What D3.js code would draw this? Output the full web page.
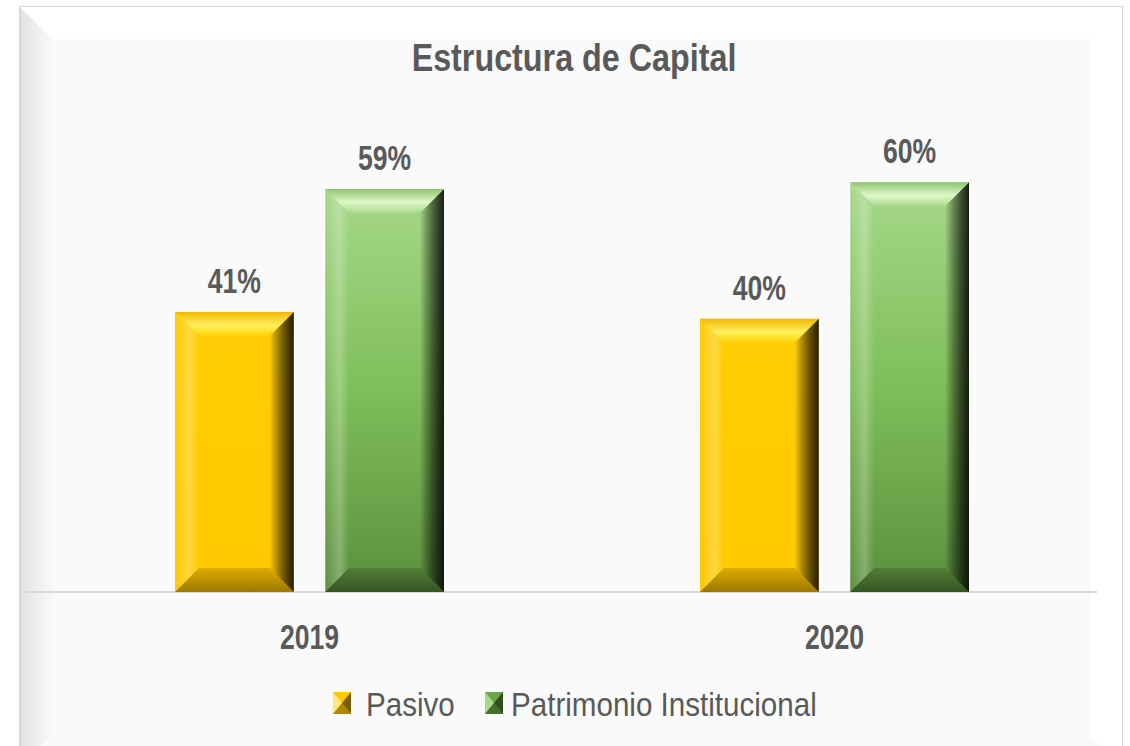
<!DOCTYPE html>
<html>
<head>
<meta charset="utf-8">
<script src="https://cdn.jsdelivr.net/npm/d3@7"></script>
<style>
  body { margin: 0; background: #ffffff; }
  svg { display: block; }
  text { font-family: "Liberation Sans", Arial, sans-serif; fill: #595959; }
</style>
</head>
<body>
<svg id="chart" width="1130" height="746"></svg>
<script>
// chart data
const years = ["2019", "2020"];
const seriesNames = ["Pasivo", "Patrimonio Institucional"];
const pasivo = [0.41, 0.40];
const patrimonio = [0.59, 0.60];

const BASE_Y = 592;
const NARROW = 0.76; // squeeze to imitate a narrow font

const svg = d3.select("#chart");
const defs = svg.append("defs");

// gradients
function linGrad(id, x2, y2, stops) {
  const g = defs.append("linearGradient").attr("id", id)
    .attr("x1", 0).attr("y1", 0).attr("x2", x2).attr("y2", y2);
  stops.forEach(s => g.append("stop").attr("offset", s[0]).attr("stop-color", s[1]).attr("stop-opacity", s[2] == null ? 1 : s[2]));
}
linGrad("yellowBody", 0, 1, [[0, "#ffcd05"], [1, "#ffc800"]]);
linGrad("greenBody", 0, 1, [[0, "#a6d889"], [0.5, "#7fbe5a"], [1, "#5b8f3d"]]);
linGrad("yellowTop", 0, 1, [[0, "#f2b800"], [0.55, "#fff060"], [1, "#ffd200"]]);
linGrad("greenTop", 0, 1, [[0, "#8fc470"], [0.55, "#def8c8"], [1, "#a9d98d"]]);
linGrad("yellowBottom", 0, 1, [[0, "#d8a800"], [1, "#8a6a00"]]);
linGrad("greenBottom", 0, 1, [[0, "#4f7a34"], [1, "#2e4a1c"]]);
linGrad("bgLeft", 1, 0, [[0, "#d8d8d8"], [1, "#f8f8f8"]]);
linGrad("rightShade", 1, 0, [[0, "#000", 0.0], [1, "#000", 0.75]]);
linGrad("leftLight", 1, 0, [[0, "#fff", 0.0], [0.6, "#fff", 0.25], [1, "#fff", 0.0]]);

// background frame with bevel
const fx = 20, fy = 7, fw = 1102, fh = 760, fb = 32;
svg.append("rect").attr("x", fx).attr("y", fy).attr("width", fw).attr("height", fh)
  .attr("fill", "#fafafa").attr("stroke", "#d6d6d6").attr("stroke-width", 2);
svg.append("polygon")
  .attr("points", [[fx, fy], [fx + fw, fy], [fx + fw - fb, fy + fb], [fx + fb, fy + fb]].join(" "))
  .attr("fill", "#ffffff");
svg.append("polygon")
  .attr("points", [[fx, fy], [fx + fb, fy + fb], [fx + fb, fy + fh - fb], [fx, fy + fh]].join(" "))
  .attr("fill", "url(#bgLeft)").attr("opacity", 0.7);
svg.append("polygon")
  .attr("points", [[fx + fw, fy], [fx + fw, fy + fh], [fx + fw - fb, fy + fh - fb], [fx + fw - fb, fy + fb]].join(" "))
  .attr("fill", "#ffffff");

// scales
const x0 = d3.scaleBand().domain(years).range([47, 1097]).paddingInner(0).paddingOuter(0);
const x1 = d3.scaleBand().domain(seriesNames).range([128, 397]).paddingInner(0.21).paddingOuter(0);
const y = d3.scaleLinear().domain([0, 0.7]).range([BASE_Y, BASE_Y - 478]);

function narrowText(parent, x, yy, size, weight, str, anchor, sx) {
  return parent.append("text")
    .attr("transform", `translate(${x},${yy}) scale(${sx || NARROW},1)`)
    .attr("text-anchor", anchor || "middle")
    .style("font-size", size + "px").style("font-weight", weight).text(str);
}

// title
narrowText(svg, 574, 71, 38, "bold", "Estructura de Capital", "middle", 0.85);

// axis line
svg.append("line").attr("x1", 20).attr("x2", 1097).attr("y1", BASE_Y).attr("y2", BASE_Y)
  .attr("stroke", "#d9d9d9").attr("stroke-width", 2);

const rows = [];
years.forEach((yr, i) => {
  rows.push({ year: yr, series: seriesNames[0], value: pasivo[i] });
  rows.push({ year: yr, series: seriesNames[1], value: patrimonio[i] });
});

const style = {
  "Pasivo": { body: "url(#yellowBody)", top: "url(#yellowTop)", bottom: "url(#yellowBottom)", right: "#6b5200", flat: "#ffc800", light: "#ffe680", dark: "#7a5d00" },
  "Patrimonio Institucional": { body: "url(#greenBody)", top: "url(#greenTop)", bottom: "url(#greenBottom)", right: "#263f16", flat: "#6aa548", light: "#a8d98b", dark: "#2f4d1d" }
};

function bevelBar(g, bx, by, bw, bh, st) {
  const b = Math.min(24, bh / 2);
  g.append("rect").attr("x", bx).attr("y", by).attr("width", bw).attr("height", bh).attr("fill", st.body);
  // left light band
  g.append("polygon").attr("points", [[bx, by], [bx + b, by + b], [bx + b, by + bh - b], [bx, by + bh]].join(" "))
    .attr("fill", "url(#leftLight)");
  // right dark band
  g.append("polygon").attr("points", [[bx + bw, by], [bx + bw, by + bh], [bx + bw - b, by + bh - b], [bx + bw - b, by + b]].join(" "))
    .attr("fill", "url(#rightShade)");
  // top bevel
  g.append("polygon").attr("points", [[bx, by], [bx + bw, by], [bx + bw - b, by + b], [bx + b, by + b]].join(" "))
    .attr("fill", st.top);
  // bottom bevel
  g.append("polygon").attr("points", [[bx, by + bh], [bx + b, by + bh - b], [bx + bw - b, by + bh - b], [bx + bw, by + bh]].join(" "))
    .attr("fill", st.bottom).attr("opacity", 0.85);
  // darken right corners of top/bottom bevel
  g.append("polygon").attr("points", [[bx + bw, by], [bx + bw, by + bh], [bx + bw - b, by + bh - b], [bx + bw - b, by + b]].join(" "))
    .attr("fill", "url(#rightShade)").attr("opacity", 0.5);
}

const bars = svg.append("g");
const labels = svg.append("g");
rows.forEach(d => {
  const bx = x0(d.year) + x1(d.series);
  const by = y(d.value);
  const g = bars.append("g");
  bevelBar(g, bx, by, x1.bandwidth(), BASE_Y - by, style[d.series]);
  narrowText(labels, bx + x1.bandwidth() / 2, by - 19, 35, "bold", d3.format(".0%")(d.value));
});

// category labels
years.forEach(yr => {
  const cx = x0(yr) + x1(seriesNames[0]) + (x1(seriesNames[1]) + x1.bandwidth() - x1(seriesNames[0])) / 2;
  narrowText(svg, cx, 649, 35, "bold", yr);
});

// legend
const legend = [
  { name: seriesNames[0], mx: 333, tx: 366, st: style["Pasivo"] },
  { name: seriesNames[1], mx: 485, tx: 511, st: style["Patrimonio Institucional"] }
];
legend.forEach(l => {
  bevelLegend(l.mx, 692, 18, 22, l.st);
  narrowText(svg, l.tx, 716, 34, "normal", l.name, "start", 0.87);
});
function bevelLegend(mx, my, mw, mh, st) {
  const c = [mx + mw / 2, my + mh / 2];
  svg.append("rect").attr("x", mx).attr("y", my).attr("width", mw).attr("height", mh).attr("fill", st.flat);
  svg.append("polygon").attr("points", [[mx, my], c, [mx, my + mh]].join(" ")).attr("fill", st.light);
  svg.append("polygon").attr("points", [[mx + mw, my], c, [mx + mw, my + mh]].join(" ")).attr("fill", st.dark);
  svg.append("polygon").attr("points", [[mx, my + mh], c, [mx + mw, my + mh]].join(" ")).attr("fill", st.dark).attr("opacity", 0.6);
}
</script>
</body>
</html>
